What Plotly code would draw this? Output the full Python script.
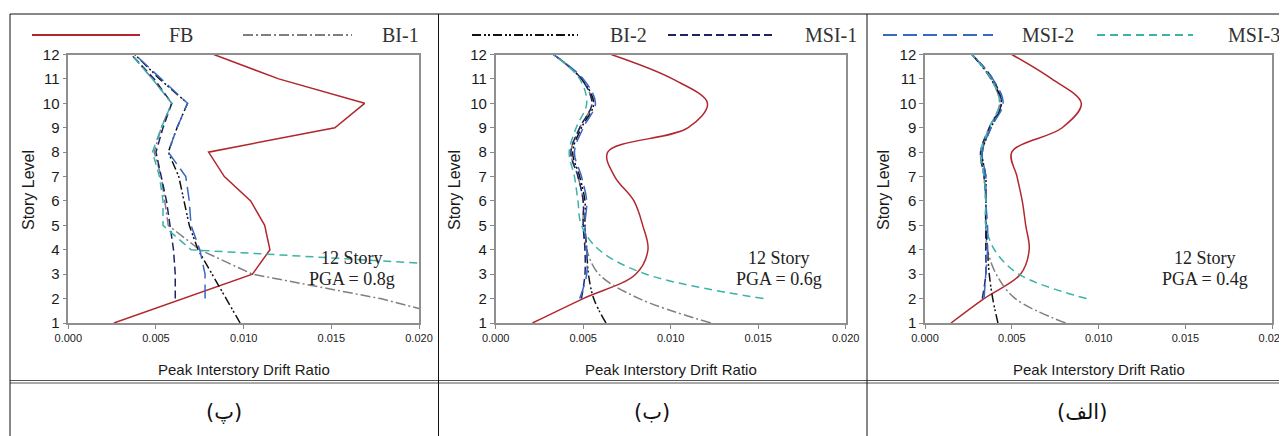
import plotly.graph_objects as go

# The page body has an 8px margin, so the figure is laid out 8px smaller
# and every page coordinate is shifted by that offset.
OFF = 8
W, H = 1287 - OFF, 436 - OFF

stories = list(range(1, 13))
x_ticks = [0.000, 0.005, 0.010, 0.015, 0.020]
series_names = ["FB", "BI-1", "BI-2", "MSI-1", "MSI-2", "MSI-3"]
panel_labels = ["(پ)", "(ب)", "(الف)"]
pga_labels = ["PGA = 0.8g", "PGA = 0.6g", "PGA = 0.4g"]
story_label = "12 Story"

# Panel (پ)  PGA = 0.8g   (values for stories 1..12)
p1_FB   = [0.0026, 0.0065, 0.0105, 0.0115, 0.0112, 0.0104, 0.0089, 0.0080, 0.0152, 0.0169, 0.0120, 0.0083]
p1_BI1  = [0.0232, 0.0178, 0.0105, 0.0075, 0.0057, 0.0055, 0.0053, 0.0049, 0.0053, 0.0059, 0.0048, 0.0036]
p1_BI2  = [0.0098, 0.0090, 0.0082, 0.0074, 0.0069, 0.0066, 0.0063, 0.0057, 0.0062, 0.0068, 0.0052, 0.0038]
p1_MSI1 = [None, 0.0061, 0.0061, 0.0060, 0.0058, 0.0056, 0.0053, 0.0050, 0.0054, 0.0059, 0.0049, 0.0036]
p1_MSI2 = [None, 0.0078, 0.0078, 0.0075, 0.0070, 0.0069, 0.0067, 0.0057, 0.0062, 0.0068, 0.0053, 0.0038]
p1_MSI3 = [None, None, 0.0310, 0.0070, 0.0054, 0.0054, 0.0052, 0.0048, 0.0053, 0.0059, 0.0048, 0.0036]

# Panel (ب)  PGA = 0.6g
p2_FB   = [0.0021, 0.0050, 0.0080, 0.0087, 0.0084, 0.0079, 0.0068, 0.0064, 0.0110, 0.0121, 0.0101, 0.0066]
p2_BI1  = [0.0123, 0.0082, 0.0059, 0.0052, 0.0050, 0.0050, 0.0047, 0.0043, 0.0048, 0.0055, 0.0049, 0.0033]
p2_BI2  = [0.0063, 0.0056, 0.0053, 0.0052, 0.0051, 0.0051, 0.0048, 0.0044, 0.0049, 0.0056, 0.0049, 0.0033]
p2_MSI1 = [None, 0.0049, 0.0051, 0.0051, 0.0050, 0.0050, 0.0047, 0.0043, 0.0048, 0.0055, 0.0049, 0.0033]
p2_MSI2 = [None, 0.0048, 0.0052, 0.0052, 0.0051, 0.0052, 0.0049, 0.0045, 0.0050, 0.0057, 0.0050, 0.0033]
p2_MSI3 = [None, 0.0153, 0.0086, 0.0059, 0.0049, 0.0047, 0.0045, 0.0042, 0.0046, 0.0052, 0.0048, 0.0033]

# Panel (الف)  PGA = 0.4g
p3_FB   = [0.0015, 0.0034, 0.0055, 0.0060, 0.0058, 0.0056, 0.0053, 0.0050, 0.0079, 0.0090, 0.0073, 0.0050]
p3_BI1  = [0.0081, 0.0052, 0.0041, 0.0036, 0.0035, 0.0035, 0.0034, 0.0033, 0.0037, 0.0043, 0.0038, 0.0027]
p3_BI2  = [0.0042, 0.0039, 0.0037, 0.0036, 0.0035, 0.0035, 0.0035, 0.0033, 0.0038, 0.0044, 0.0038, 0.0027]
p3_MSI1 = [None, 0.0033, 0.0035, 0.0035, 0.0035, 0.0035, 0.0034, 0.0032, 0.0037, 0.0044, 0.0039, 0.0027]
p3_MSI2 = [None, 0.0034, 0.0035, 0.0036, 0.0036, 0.0035, 0.0035, 0.0033, 0.0038, 0.0045, 0.0039, 0.0027]
p3_MSI3 = [None, 0.0093, 0.0054, 0.0040, 0.0035, 0.0035, 0.0034, 0.0032, 0.0037, 0.0043, 0.0038, 0.0027]

panels = [
    [p1_FB, p1_BI1, p1_BI2, p1_MSI1, p1_MSI2, p1_MSI3],
    [p2_FB, p2_BI1, p2_BI2, p2_MSI1, p2_MSI2, p2_MSI3],
    [p3_FB, p3_BI1, p3_BI2, p3_MSI1, p3_MSI2, p3_MSI3],
]
panel_shapes = ["linear", "spline", "spline"]

styles = {
    "FB":    dict(color="#b1272d", dash="solid", width=1.5),
    "BI-1":  dict(color="#7f7f7f", dash="10px,3px,2px,3px", width=1.5),
    "BI-2":  dict(color="#111111", dash="9px,3px,2px,2px,2px,3px", width=1.5),
    "MSI-1": dict(color="#1d2466", dash="8px,4px", width=1.5),
    "MSI-2": dict(color="#3a66c4", dash="14px,6px", width=1.5),
    "MSI-3": dict(color="#3bb3a8", dash="8px,5px", width=1.5),
}

# page-pixel geometry of the three plot areas
x_px = [(68.3, 419.0), (495.7, 845.7), (925.0, 1272.3)]
y_px = (54.5, 323.0)
ytitle_px = [28, 454, 883]

def px(x):
    return (x - OFF) / W

def py(y):
    return 1 - (y - OFF) / H

fig = go.Figure()
layout = dict(width=W, height=H, margin=dict(l=0, r=0, t=0, b=0, autoexpand=False),
              paper_bgcolor="white", plot_bgcolor="white", showlegend=False)

axis_font = dict(family="Liberation Sans, Arial, sans-serif", color="#1a1a1a")
for i, (vals, shape) in enumerate(zip(panels, panel_shapes)):
    k = "" if i == 0 else str(i + 1)
    for name, v in zip(series_names, vals):
        st = styles[name]
        fig.add_trace(go.Scatter(
            x=v, y=stories, mode="lines", name=name,
            line=dict(color=st["color"], dash=st["dash"], width=st["width"],
                      shape=shape, smoothing=1.0),
            xaxis="x" + k, yaxis="y" + k, connectgaps=False, hoverinfo="skip"))
    x0, x1 = x_px[i]
    layout["xaxis" + k] = dict(
        domain=[px(x0), px(x1)], range=[0, 0.02], anchor="y" + k,
        tickvals=x_ticks, tickformat=".3f", ticks="outside", ticklen=4,
        tickcolor="#888", showline=True, linecolor="#8f8f8f", linewidth=1.5,
        mirror=True, showgrid=False, zeroline=False, automargin=False,
        tickfont=dict(size=11, **axis_font))
    layout["yaxis" + k] = dict(
        domain=[py(y_px[1]), py(y_px[0])], range=[1, 12], anchor="x" + k,
        dtick=1, ticks="outside", ticklen=4, tickcolor="#888",
        showline=True, linecolor="#8f8f8f", linewidth=1.5, mirror=True,
        showgrid=False, zeroline=False, automargin=False,
        tickfont=dict(size=15, **axis_font))

fig.update_layout(**layout)

ann = []
shapes = []

def text(x, y, t, font, xanchor="center", angle=0):
    ann.append(dict(x=px(x), y=py(y), xref="paper", yref="paper", text=t,
                    showarrow=False, xanchor=xanchor, yanchor="middle",
                    textangle=angle, font=font))

serif = "Liberation Serif, Times New Roman, serif"
for i in range(3):
    x0, x1 = x_px[i]
    xc = (x0 + x1) / 2
    text(xc, 369, "Peak Interstory Drift Ratio", dict(size=15, **axis_font))
    text(ytitle_px[i], 190, "Story Level", dict(size=16, **axis_font), angle=-90)
    tx = x1 - 67
    text(tx, 258, story_label, dict(size=18, family=serif, color="#222"))
    text(tx, 279, pga_labels[i], dict(size=18, family=serif, color="#222"))

label_x = [224, 652, 1082]
for i, t in enumerate(panel_labels):
    text(label_x[i], 412, t, dict(size=21, family="DejaVu Sans, serif", color="#111"))

# legend (manual, spread across the top row)
leg_line = [(32, 140), (243, 352), (472, 578), (668, 772), (883, 993), (1097, 1193)]
leg_text = [167, 380, 608, 803, 1020, 1226]
for name, (a, b), t in zip(series_names, leg_line, leg_text):
    st = styles[name]
    shapes.append(dict(type="line", xref="paper", yref="paper",
                       x0=px(a), x1=px(b), y0=py(35), y1=py(35),
                       line=dict(color=st["color"], dash=st["dash"], width=2)))
    text(t, 35, name, dict(size=20, family=serif, color="#333"), xanchor="left")

# table borders
def hline(y, xa=10, xb=1287, color="#111", w=1):
    shapes.append(dict(type="line", xref="paper", yref="paper",
                       x0=px(xa), x1=px(xb), y0=py(y), y1=py(y), line=dict(color=color, width=w)))

def vline(x, ya=14, yb=436, color="#111", w=1):
    shapes.append(dict(type="line", xref="paper", yref="paper",
                       x0=px(x), x1=px(x), y0=py(ya), y1=py(yb), line=dict(color=color, width=w)))

hline(14)
hline(380.5, color="#555")
hline(383, color="#555")
vline(10)
vline(438.5)
vline(867)
vline(1286)

fig.update_layout(annotations=ann, shapes=shapes)
fig.write_html("out.html")
